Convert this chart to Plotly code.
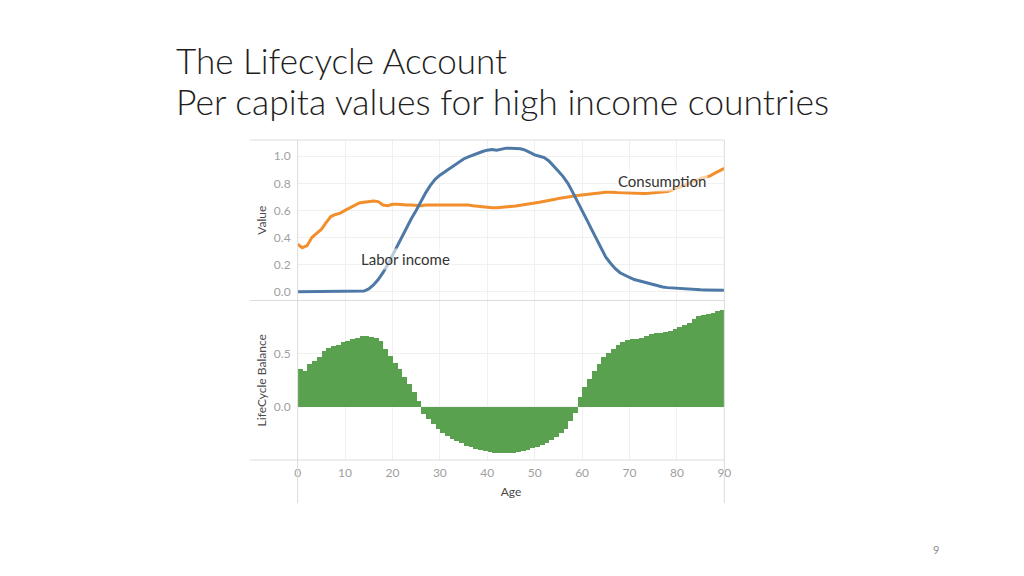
import plotly.graph_objects as go

# Lifecycle account, per capita values, high income countries
ages = list(range(0, 91))

labor_income = [
    0.0, 0.0, 0.0, 0.0, 0.0, 0.0, 0.0, 0.0, 0.0, 0.0,
    0.0, 0.0, 0.0, 0.0, 0.005, 0.02, 0.05, 0.09, 0.14, 0.2,
    0.27, 0.34, 0.4, 0.47, 0.54, 0.6, 0.67, 0.73, 0.785, 0.83,
    0.86, 0.885, 0.905, 0.93, 0.96, 0.98, 0.995, 1.01, 1.025, 1.035,
    1.045, 1.05, 1.045, 1.055, 1.06, 1.06, 1.06, 1.055, 1.045, 1.025,
    1.01, 1.0, 0.99, 0.965, 0.93, 0.89, 0.85, 0.8, 0.735, 0.67,
    0.6, 0.53, 0.46, 0.39, 0.32, 0.255, 0.21, 0.17, 0.14, 0.12,
    0.105, 0.09, 0.08, 0.07, 0.06, 0.05, 0.04, 0.035, 0.03, 0.027,
    0.024, 0.021, 0.019, 0.017, 0.015, 0.014, 0.013, 0.012, 0.012, 0.011,
    0.011,
]

consumption = [
    0.35, 0.325, 0.34, 0.4, 0.43, 0.46, 0.51, 0.555, 0.57, 0.58,
    0.6, 0.62, 0.64, 0.655, 0.66, 0.665, 0.67, 0.665, 0.64, 0.635,
    0.645, 0.645, 0.64, 0.64, 0.64, 0.635, 0.635, 0.64, 0.64, 0.645,
    0.645, 0.645, 0.645, 0.645, 0.645, 0.64, 0.64, 0.635, 0.63, 0.625,
    0.625, 0.62, 0.62, 0.622, 0.625, 0.628, 0.632, 0.638, 0.645, 0.65,
    0.655, 0.66, 0.665, 0.672, 0.68, 0.688, 0.695, 0.7, 0.705, 0.71,
    0.715, 0.72, 0.725, 0.728, 0.732, 0.735, 0.735, 0.733, 0.735, 0.733,
    0.73, 0.728, 0.727, 0.725, 0.727, 0.73, 0.73, 0.735, 0.74, 0.75,
    0.765, 0.78, 0.795, 0.81, 0.82, 0.835, 0.845, 0.855, 0.875, 0.89,
    0.91,
]

bar_ages = list(range(0, 90))
lifecycle_balance = [
    0.36, 0.345, 0.405, 0.44, 0.475, 0.53, 0.56, 0.58, 0.59, 0.61,
    0.625, 0.64, 0.655, 0.67, 0.67, 0.665, 0.65, 0.62, 0.55, 0.48,
    0.42, 0.36, 0.29, 0.22, 0.14, 0.06, -0.06, -0.11, -0.16, -0.2,
    -0.24, -0.27, -0.3, -0.32, -0.34, -0.36, -0.375, -0.39, -0.4, -0.41,
    -0.42, -0.425, -0.425, -0.425, -0.425, -0.425, -0.42, -0.41, -0.4, -0.385,
    -0.37, -0.355, -0.335, -0.31, -0.28, -0.245, -0.2, -0.13, -0.05, 0.1,
    0.19, 0.27, 0.34, 0.41, 0.47, 0.51, 0.55, 0.59, 0.61, 0.63,
    0.64, 0.645, 0.655, 0.67, 0.685, 0.695, 0.7, 0.71, 0.72, 0.74,
    0.76, 0.775, 0.795, 0.83, 0.855, 0.865, 0.875, 0.89, 0.905, 0.92,
]

x_ticks = [0, 10, 20, 30, 40, 50, 60, 70, 80, 90]

# the page body has an 8px margin, so the figure is a bit smaller than the window
PAD = 8
W, H = 1024 - 2 * PAD, 576 - 2 * PAD
def px(x):
    return (x - PAD) / W
def py(y):
    return 1 - (y - PAD) / H

BLUE = "#4e79a7"
ORANGE = "#f28e2b"
GREEN = "#59a14f"
GRID = "#f0f0f0"
TICK = "#a0a0a0"
TITLE_GREY = "#4a4a4a"

LEFT, RIGHT = 297.5, 728.5

fig = go.Figure()

fig.add_trace(go.Bar(x=bar_ages, y=lifecycle_balance, offset=0, width=1,
                     marker=dict(color=GREEN, line=dict(width=0)),
                     xaxis="x2", yaxis="y2", showlegend=False))
fig.add_trace(go.Scatter(x=ages, y=consumption, mode="lines",
                         line=dict(color=ORANGE, width=3),
                         xaxis="x", yaxis="y", showlegend=False))
fig.add_trace(go.Scatter(x=ages, y=labor_income, mode="lines",
                         line=dict(color=BLUE, width=3),
                         xaxis="x", yaxis="y", showlegend=False))

xdom = [px(LEFT), px(RIGHT)]
fig.update_layout(
    width=W, height=H,
    margin=dict(l=0, r=0, t=0, b=0),
    paper_bgcolor="white", plot_bgcolor="white",
    bargap=0,
    font=dict(family="Lato, Open Sans, sans-serif", color=TICK, size=12),
    xaxis=dict(domain=xdom, anchor="y", range=[0, 90], tickvals=x_ticks,
               showticklabels=False, showgrid=True, gridcolor=GRID,
               zeroline=False, showline=False),
    yaxis=dict(domain=[py(300.5), py(140)], anchor="x", range=[-0.065, 1.12],
               tickvals=[0, 0.2, 0.4, 0.6, 0.8, 1.0], tickformat=".1f",
               showgrid=True, gridcolor=GRID, zeroline=False,
               ticks="", ticklabelstandoff=6,
               tickfont=dict(size=12, color=TICK),
               title=dict(text="Value", font=dict(size=12, color=TITLE_GREY),
                          standoff=4)),
    xaxis2=dict(domain=xdom, anchor="y2", range=[0, 90], tickvals=x_ticks,
                showgrid=True, gridcolor=GRID, zeroline=False, showline=False,
                tickfont=dict(size=12, color=TICK), ticklabelstandoff=4,
                title=dict(text="Age", font=dict(size=12, color=TITLE_GREY),
                           standoff=8)),
    yaxis2=dict(domain=[py(460), py(300.5)], anchor="x2", range=[-0.5, 1.0],
                tickvals=[0, 0.5], tickformat=".1f",
                showgrid=True, gridcolor=GRID, zeroline=False,
                ticks="", ticklabelstandoff=6,
                tickfont=dict(size=12, color=TICK),
                title=dict(text="LifeCycle Balance",
                           font=dict(size=12, color=TITLE_GREY), standoff=4)),
)

# frame lines of the dashboard
line_style = dict(color="#dcdcdc", width=1)
for x0, y0, x1, y1 in [(249, 140, RIGHT, 140), (249, 300.5, RIGHT, 300.5),
                       (249, 460, RIGHT, 460), (LEFT, 140, LEFT, 503),
                       (RIGHT, 140, RIGHT, 503)]:
    fig.add_shape(type="line", xref="paper", yref="paper",
                  x0=px(x0), y0=py(y0), x1=px(x1), y1=py(y1), line=line_style)

fig.add_annotation(x=22.8, y=0.24, xref="x", yref="y", text="Labor income",
                   showarrow=False, font=dict(size=15, color="#333333"),
                   bgcolor="rgba(255,255,255,0.6)")
fig.add_annotation(x=76.8, y=0.82, xref="x", yref="y", text="Consumption",
                   showarrow=False, font=dict(size=15, color="#333333"),
                   bgcolor="rgba(255,255,255,0.6)")

fig.add_annotation(x=px(173), y=py(60), xref="paper", yref="paper",
                   xanchor="left", yanchor="middle", showarrow=False,
                   text="The Lifecycle Account",
                   font=dict(family="Lato, Open Sans, sans-serif", size=35,
                             color="#1e1e1e", weight=300))
fig.add_annotation(x=px(173), y=py(102), xref="paper", yref="paper",
                   xanchor="left", yanchor="middle", showarrow=False,
                   text="Per capita values for high income countries",
                   font=dict(family="Lato, Open Sans, sans-serif", size=35.5,
                             color="#1e1e1e", weight=300))
fig.add_annotation(x=px(942), y=py(549), xref="paper", yref="paper",
                   xanchor="center", yanchor="middle", showarrow=False,
                   text="9", font=dict(size=11, color="#8c8c8c"))

fig.write_html("out.html")
